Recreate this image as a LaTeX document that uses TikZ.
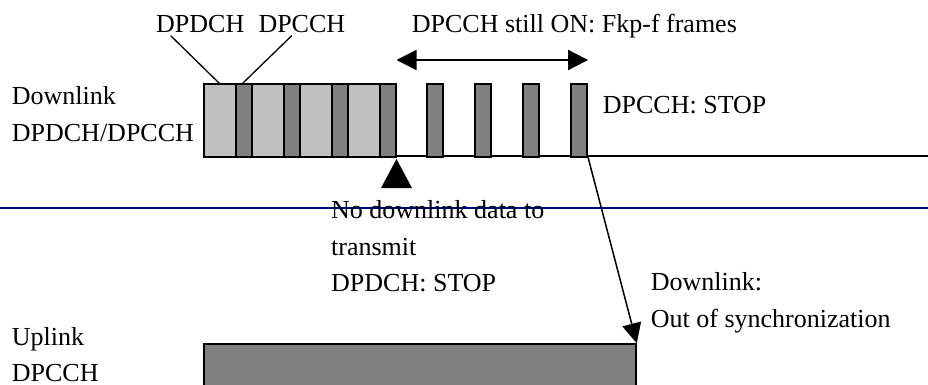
\documentclass[tikz,border=0pt]{standalone}
\usepackage{fontspec}
\setmainfont{Liberation Serif}
\usetikzlibrary{arrows.meta,calc}
\definecolor{lightseg}{RGB}{192,192,192}
\definecolor{darkseg}{RGB}{128,128,128}
\definecolor{navyline}{RGB}{0,0,128}
\tikzset{
  lbl/.style={anchor=base west, inner sep=0pt, font=\fontsize{26}{37}\selectfont},
  dseg/.style={draw=black, line width=1.8pt, fill=darkseg, anchor=north west, inner sep=0pt, minimum width=16pt, minimum height=72.4pt},
  lseg/.style={draw=black, line width=1.8pt, fill=lightseg, anchor=north west, inner sep=0pt, minimum width=32pt, minimum height=72.4pt},
  thinln/.style={line width=1.3pt},
  arr/.style={line width=1.5pt, -{Triangle[length=20pt,width=19pt]}},
  darr/.style={line width=1.8pt, {Triangle[length=20pt,width=20pt]}-{Triangle[length=20pt,width=20pt]}},
}
\begin{document}
\begin{tikzpicture}[x=1pt,y=-1pt]
\useasboundingbox (0,0) rectangle (928,385);
\fill[white] (0,0) rectangle (928,385);

% baseline of downlink
\coordinate (bl0) at (202.7,155.7);
\coordinate (bl1) at (928,155.7);
\draw[line width=1.9pt] (bl0) -- (bl1);

% downlink segments
\node[lseg] (l1) at (202.7,83.3) {};
\node[dseg] (d1) at (234.7,83.3) {};
\node[lseg] (l2) at (250.7,83.3) {};
\node[dseg] (d2) at (282.7,83.3) {};
\node[lseg] (l3) at (298.7,83.3) {};
\node[dseg] (d3) at (330.7,83.3) {};
\node[lseg] (l4) at (346.7,83.3) {};
\node[dseg] (d4) at (378.7,83.3) {};
% isolated DPCCH bars
\node[dseg] (b1) at (426.3,83.3) {};
\node[dseg] (b2) at (474.3,83.3) {};
\node[dseg] (b3) at (522.3,83.3) {};
\node[dseg] (b4) at (570.3,83.3) {};

% navy separator
\coordinate (nv0) at (0,208.3);
\coordinate (nv1) at (928,208.3);
\draw[navyline, line width=2pt] (nv0) -- (nv1);

% uplink box
\node[draw=black, line width=1.8pt, fill=darkseg, anchor=north west, inner sep=0pt,
      minimum width=431.7pt, minimum height=46pt] (ul) at (203.3,343.3) {};

% labels
\node[lbl] (dl1) at (11.7,105) {Downlink};
\node[lbl] (dl2) at (11.7,141.7) {DPDCH/DPCCH};
\node[lbl] (ul1) at (11.7,345) {Uplink};
\node[lbl] (ul2) at (11.7,381.3) {DPCCH};
\node[lbl] (tpd) at (156,32.3) {DPDCH};
\node[lbl] (tpc) at (258.3,32.3) {DPCCH};
\node[lbl] (ton) at (411.7,32.3) {DPCCH still ON: Fkp-f frames};
\node[lbl] (tstop) at (602.7,113.3) {DPCCH: STOP};
\node[lbl] (nd1) at (331,218) {No downlink data to};
\node[lbl] (nd2) at (331,255) {transmit};
\node[lbl] (nd3) at (331,291.7) {DPDCH: STOP};
\node[lbl] (os1) at (650.7,290) {Downlink:};
\node[lbl] (os2) at (650.7,327.3) {Out of synchronization};

% leader lines
\coordinate (ldA) at (170.7,35.7);
\coordinate (ldB) at (291.7,35.7);
\draw[thinln] (ldA) -- (219.3,83.3);
\draw[thinln] (ldB) -- (242.7,83.3);

% double arrow for DPCCH still ON
\coordinate (da0) at (d4.east |- 0,60);
\coordinate (da1) at (b4.east |- 0,60);
\draw[darr] (da0) -- (da1);

% triangle marker
\coordinate (tri) at (d4.south east);
\fill[black] ($(tri)+(0,1.5)$) -- ++(-15.5,29) -- ++(31,0) -- cycle;

% out of sync arrow
\draw[arr] (b4.south east) -- (ul.north east);
\end{tikzpicture}
\end{document}
